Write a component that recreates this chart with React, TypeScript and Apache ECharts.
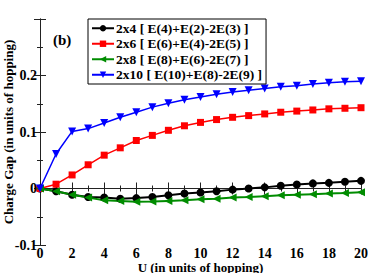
import React, { useEffect, useRef } from "react";
import * as echarts from "echarts";

const uValues = [0, 1, 2, 3, 4, 5, 6, 7, 8, 9, 10, 11, 12, 13, 14, 15, 16, 17, 18, 19, 20];
const gap2x4 = [0, -0.005, -0.011, -0.015, -0.016, -0.018, -0.017, -0.015, -0.012, -0.009, -0.007, -0.005, -0.002, 0.0, 0.002, 0.005, 0.007, 0.009, 0.010, 0.012, 0.0135];
const gap2x6 = [0, 0.0076, 0.024, 0.042, 0.059, 0.072, 0.085, 0.094, 0.103, 0.111, 0.117, 0.122, 0.126, 0.129, 0.132, 0.135, 0.137, 0.139, 0.141, 0.142, 0.143];
const gap2x8 = [0, -0.005, -0.011, -0.016, -0.021, -0.022, -0.0235, -0.023, -0.022, -0.021, -0.019, -0.018, -0.016, -0.015, -0.0135, -0.012, -0.011, -0.010, -0.009, -0.008, -0.0065];
const gap2x10 = [0, 0.061, 0.101, 0.106, 0.116, 0.126, 0.135, 0.144, 0.151, 0.157, 0.162, 0.167, 0.171, 0.174, 0.177, 0.180, 0.182, 0.185, 0.187, 0.189, 0.190];
const seriesNames = [
  "2x4 [ E(4)+E(2)-2E(3) ]",
  "2x6 [ E(6)+E(4)-2E(5) ]",
  "2x8 [ E(8)+E(6)-2E(7) ]",
  "2x10 [ E(10)+E(8)-2E(9) ]",
];
const yTickLabels = ["-0.1", "0", "0.1", "0.2"];

const FONT = "'Liberation Serif', 'DejaVu Serif', serif";

export default function App() {
  const ref = useRef<HTMLDivElement>(null);
  useEffect(() => {
    if (!ref.current) return;
    const chart = echarts.init(ref.current, undefined, { renderer: "svg" });
    const pair = (arr: number[]) => uValues.map((u, i) => [u, arr[i]]);
    const axisLine = { show: true, lineStyle: { color: "#222", width: 1 } };
    const tickIn = { show: true, inside: true, length: 6, lineStyle: { color: "#222" } };
    const minorIn = { show: true, splitNumber: 2, length: 3, lineStyle: { color: "#222" } };
    const labelStyle = { fontFamily: FONT, fontWeight: "bold" as const, fontSize: 14, color: "#000" };
    const mk = (name: string, data: number[], color: string, symbol: string, size: number, rotate: number, width: number) => ({
      name,
      type: "line",
      data: pair(data),
      symbol,
      symbolSize: size,
      symbolRotate: rotate,
      itemStyle: { color },
      lineStyle: { color, width },
      z: 3,
    });
    chart.setOption({
      animation: false,
      grid: { left: 40, right: 7, top: 19, bottom: 28, containLabel: false, outerBoundsMode: "none" },
      legend: {
        show: true,
        orient: "vertical",
        left: 88,
        top: 19,
        itemWidth: 22,
        itemHeight: 8,
        itemGap: 1,
        padding: [2, 4, 2, 3],
        borderColor: "#000",
        borderWidth: 1,
        backgroundColor: "#fff",
        textStyle: { ...labelStyle, fontSize: 13.5, lineHeight: 14.5, padding: [0, 0, 0, -3] },
        data: seriesNames,
      },
      graphic: [
        {
          type: "text",
          left: 53,
          top: 32,
          style: { text: "(b)", font: `bold 15px ${FONT}`, fill: "#000" },
        },
      ],
      xAxis: [
        {
          type: "value",
          min: 0,
          max: 20,
          interval: 2,
          name: "U (in units of hopping)",
          nameLocation: "middle",
          nameMoveOverlap: false,
          nameGap: 16,
          nameTextStyle: { ...labelStyle, fontSize: 13, lineHeight: 12 },
          axisLine,
          axisTick: tickIn,
          minorTick: minorIn,
          axisLabel: { ...labelStyle, margin: 3, lineHeight: 11 },
          splitLine: { show: false },
        },
        {
          type: "value",
          position: "top",
          min: 0,
          max: 20,
          interval: 2,
          axisLine,
          axisTick: tickIn,
          minorTick: minorIn,
          axisLabel: { show: false },
          splitLine: { show: false },
        },
      ],
      yAxis: [
        {
          type: "value",
          min: -0.1,
          max: 0.3,
          interval: 0.1,
          name: "Charge Gap (in units of hopping)",
          nameLocation: "middle",
          nameMoveOverlap: false,
          nameGap: 25,
          nameTextStyle: { ...labelStyle, fontSize: 13 },
          axisLine,
          axisTick: tickIn,
          minorTick: minorIn,
          axisLabel: {
            ...labelStyle,
            margin: 3,
            formatter: (v: number) => {
              const s = Math.abs(v) < 1e-9 ? "0" : String(Math.round(v * 10) / 10);
              return yTickLabels.includes(s) ? s : "";
            },
          },
          splitLine: { show: false },
        },
        {
          type: "value",
          position: "right",
          min: -0.1,
          max: 0.3,
          interval: 0.1,
          axisLine,
          axisTick: tickIn,
          minorTick: minorIn,
          axisLabel: { show: false },
          splitLine: { show: false },
        },
      ],
      series: [
        mk(seriesNames[0], gap2x4, "#000000", "circle", 8, 0, 2),
        mk(seriesNames[1], gap2x6, "#ff0000", "rect", 7, 0, 1.5),
        mk(seriesNames[2], gap2x8, "#008c00", "triangle", 8, 90, 2),
        mk(seriesNames[3], gap2x10, "#0000ff", "triangle", 8, 180, 1.5),
      ],
    });
    return () => chart.dispose();
  }, []);
  return (
    <div
      ref={ref}
      style={{ position: "fixed", left: 0, top: 0, width: 368, height: 273, background: "#fff" }}
    />
  );
}
